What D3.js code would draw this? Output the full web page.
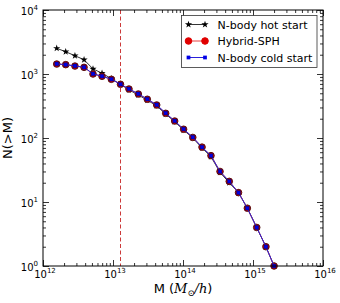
<!DOCTYPE html>
<html>
<head>
<meta charset="utf-8">
<script src="https://cdn.jsdelivr.net/npm/d3@7"></script>
<style>
  body { margin: 0; background: #fff; }
  svg { display: block; font-family: "DejaVu Sans", sans-serif; }
</style>
</head>
<body>
<svg id="chart" width="340" height="303"></svg>
<script>
// halo mass bins (M_sun/h)
var mass = [1.57e12, 2.11e12, 2.86e12, 3.86e12, 5.18e12, 6.97e12, 9.47e12, 1.28e13,
            1.69e13, 2.30e13, 3.09e13, 4.21e13, 5.66e13, 7.60e13, 1.02e14, 1.38e14,
            1.87e14, 2.51e14, 3.38e14, 4.58e14, 6.21e14, 8.30e14, 1.13e15, 1.53e15, 2.0e15];
// cumulative counts N(>M)
var hotStart  = [2520, 2230, 1930, 1670, 1200, 1030, 845, 690, 565, 470, 390, 318,
                 236, 180, 133, 100, 70, 51, 29, 20, 14, 8, 4, 2, 1];
var hybridSPH = [1430, 1400, 1330, 1270, 1000, 920, 826, 690, 583, 487, 403, 328,
                 243, 184, 137, 102, 72, 53, 30, 21, 14, 8, 4, 2, 1];
var coldStart = [1440, 1400, 1340, 1275, 1005, 925, 830, 692, 585, 490, 405, 330,
                 245, 185, 138, 103, 72, 53, 30, 21, 14, 8, 4, 2, 1];
var cutMass = [1.28e13];
var xTicks = [1e12, 1e13, 1e14, 1e15, 1e16];
var yTicks = [1, 10, 100, 1000, 10000];

var svg = d3.select("#chart");
var pL = 43, pR = 323, pT = 10, pB = 266;

var x = d3.scaleLog().domain([1e12, 1e16]).range([pL, pR]);
var y = d3.scaleLog().domain([1, 1e4]).range([pB, pT]);

// minor ticks 2..9 x 10^k
function minors(lo, hi) {
  var out = [];
  for (var e = lo; e < hi; e++)
    for (var m = 2; m <= 9; m++) out.push(m * Math.pow(10, e));
  return out;
}
var xMinor = minors(12, 16), yMinor = minors(0, 4);

function noDomain(g) { g.select(".domain").remove(); g.selectAll("line").attr("stroke", "#000").attr("stroke-width", 0.8); }

// inward ticks on all four sides
svg.append("g").attr("transform", "translate(0," + pB + ")")
  .call(d3.axisBottom(x).tickValues(xTicks).tickSize(-6).tickFormat("")).call(noDomain);
svg.append("g").attr("transform", "translate(0," + pB + ")")
  .call(d3.axisBottom(x).tickValues(xMinor).tickSize(-3).tickFormat("")).call(noDomain);
svg.append("g").attr("transform", "translate(0," + pT + ")")
  .call(d3.axisTop(x).tickValues(xTicks).tickSize(-6).tickFormat("")).call(noDomain);
svg.append("g").attr("transform", "translate(0," + pT + ")")
  .call(d3.axisTop(x).tickValues(xMinor).tickSize(-3).tickFormat("")).call(noDomain);
svg.append("g").attr("transform", "translate(" + pL + ",0)")
  .call(d3.axisLeft(y).tickValues(yTicks).tickSize(-6).tickFormat("")).call(noDomain);
svg.append("g").attr("transform", "translate(" + pL + ",0)")
  .call(d3.axisLeft(y).tickValues(yMinor).tickSize(-3).tickFormat("")).call(noDomain);
svg.append("g").attr("transform", "translate(" + pR + ",0)")
  .call(d3.axisRight(y).tickValues(yTicks).tickSize(-6).tickFormat("")).call(noDomain);
svg.append("g").attr("transform", "translate(" + pR + ",0)")
  .call(d3.axisRight(y).tickValues(yMinor).tickSize(-3).tickFormat("")).call(noDomain);

function powLabel(sel, v) {
  sel.append("tspan").text("10");
  sel.append("tspan").attr("font-size", 7).attr("dy", -5).text(Math.round(Math.log10(v)));
}

svg.append("g").selectAll("text").data(xTicks).enter().append("text")
  .attr("x", function(d) { return x(d) + 2; })
  .attr("y", pB + 11.5)
  .attr("text-anchor", "middle")
  .attr("font-size", 10)
  .each(function(d) { powLabel(d3.select(this), d); });

svg.append("g").selectAll("text").data(yTicks).enter().append("text")
  .attr("x", pL - 5)
  .attr("y", function(d) { return y(d) + 5; })
  .attr("text-anchor", "end")
  .attr("font-size", 10)
  .each(function(d) { powLabel(d3.select(this), d); });

// resolution cut
svg.selectAll(".cut").data(cutMass).enter().append("line")
  .attr("x1", function(d) { return x(d); }).attr("x2", function(d) { return x(d); })
  .attr("y1", pT).attr("y2", pB)
  .attr("stroke", "#cc3a3a").attr("stroke-width", 1).attr("stroke-dasharray", "4,2.5");

function pts(vals) { return mass.map(function(m, i) { return [m, vals[i]]; }); }
var line = d3.line().x(function(d) { return x(d[0]); }).y(function(d) { return y(d[1]); });

var star = d3.symbol().type(d3.symbolStar).size(16);
var sq = d3.symbol().type(d3.symbolSquare).size(14);

// hot start
svg.append("path").datum(pts(hotStart)).attr("d", line)
  .attr("fill", "none").attr("stroke", "#000").attr("stroke-width", 0.8);
svg.append("g").selectAll("path").data(pts(hotStart)).enter().append("path")
  .attr("d", star).attr("fill", "#000")
  .attr("transform", function(d) { return "translate(" + x(d[0]) + "," + y(d[1]) + ")"; });

// hybrid SPH
svg.append("path").datum(pts(hybridSPH)).attr("d", line)
  .attr("fill", "none").attr("stroke", "#e84040").attr("stroke-width", 1);
svg.append("g").selectAll("circle").data(pts(hybridSPH)).enter().append("circle")
  .attr("cx", function(d) { return x(d[0]); }).attr("cy", function(d) { return y(d[1]); })
  .attr("r", 3.3).attr("fill", "#d80000").attr("stroke", "#4a0a0a").attr("stroke-width", 0.9);

// cold start
svg.append("path").datum(pts(coldStart)).attr("d", line)
  .attr("fill", "none").attr("stroke", "#2a20d8").attr("stroke-width", 1);
svg.append("g").selectAll("path").data(pts(coldStart)).enter().append("path")
  .attr("d", sq).attr("fill", "#0000e8").attr("stroke", "#000060").attr("stroke-width", 0.5)
  .attr("transform", function(d) { return "translate(" + x(d[0]) + "," + y(d[1]) + ")"; });

// frame
svg.append("rect").attr("x", pL).attr("y", pT)
  .attr("width", pR - pL).attr("height", pB - pT)
  .attr("fill", "none").attr("stroke", "#000").attr("stroke-width", 1);

// axis labels
var xl = svg.append("text").attr("x", (pL + pR) / 2).attr("y", 293)
  .attr("text-anchor", "middle").attr("font-size", 13);
xl.append("tspan").text("M (");
xl.append("tspan").attr("font-style", "italic").attr("font-family", "DejaVu Serif").text("M");
xl.append("tspan").attr("font-size", 8.5).attr("dy", 3).attr("font-family", "DejaVu Serif").text("⊙");
xl.append("tspan").attr("dy", -3).attr("font-style", "italic").attr("font-family", "DejaVu Serif").text("/h");
xl.append("tspan").text(")");

svg.append("text").attr("transform", "translate(12," + (pT + pB) / 2 + ") rotate(-90)")
  .attr("text-anchor", "middle").attr("font-size", 13).text("N(>M)");

// legend
var legend = [
  { name: "N-body hot start", color: "#000", mark: "star" },
  { name: "Hybrid-SPH", color: "#e84040", mark: "circle" },
  { name: "N-body cold start", color: "#2a20d8", mark: "square" }
];
var lg = svg.append("g");
lg.append("rect").attr("x", 181.5).attr("y", 15.5).attr("width", 135.5).attr("height", 52)
  .attr("fill", "#fff").attr("stroke", "#333").attr("stroke-width", 0.8);
legend.forEach(function(d, i) {
  var ly = 24.5 + i * 16.5;
  lg.append("line").attr("x1", 188.5).attr("x2", 205).attr("y1", ly).attr("y2", ly)
    .attr("stroke", d.color).attr("stroke-width", d.mark == "star" ? 0.8 : 1);
  [188.5, 205].forEach(function(px) {
    if (d.mark == "star")
      lg.append("path").attr("d", star).attr("fill", "#000").attr("transform", "translate(" + px + "," + ly + ")");
    else if (d.mark == "circle")
      lg.append("circle").attr("cx", px).attr("cy", ly).attr("r", 3.3).attr("fill", "#e00000").attr("stroke", "#e00000");
    else
      lg.append("path").attr("d", sq).attr("fill", "#0000e8").attr("transform", "translate(" + px + "," + ly + ")");
  });
  lg.append("text").attr("x", 217.5).attr("y", ly + 4).attr("font-size", 11).text(d.name);
});
</script>
</body>
</html>
